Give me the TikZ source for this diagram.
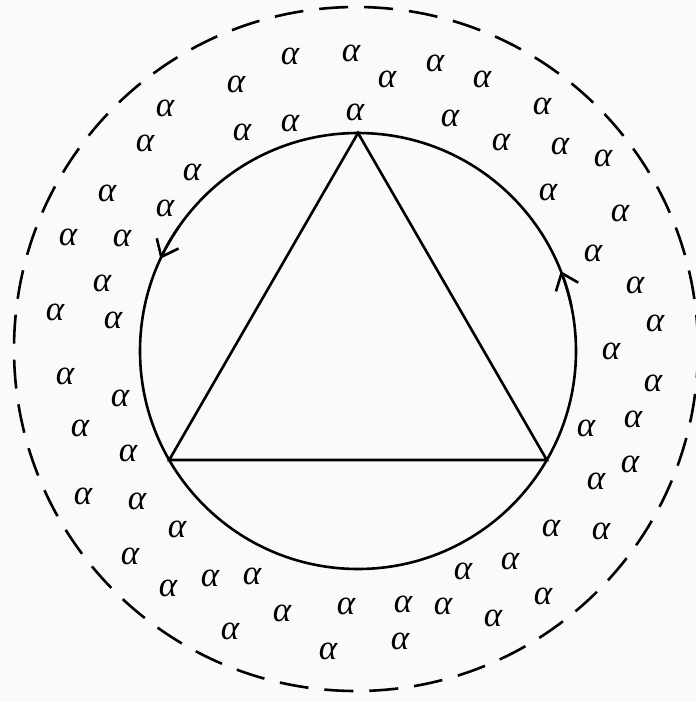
\documentclass[tikz,border=0pt]{standalone}
\usepackage{fontspec}
\newfontfamily\grk{Liberation Serif}
\usetikzlibrary{arrows.meta,calc}
\definecolor{bg}{RGB}{250,250,250}
\begin{document}
\begin{tikzpicture}[x=1pt,y=-1pt,line width=2.6pt,
  alpha/.style={font=\grk\itshape\fontsize{35}{37}\selectfont, inner sep=0pt},
  flowtip/.style={-{Straight Barb[length=15pt,width=24pt,line width=2.6pt]}},
]
\useasboundingbox[fill=bg] (0,0) rectangle (696,702);
% outer dashed circle
\coordinate (Oo) at (356,349);
\draw[dash pattern=on 29pt off 16pt] (Oo) circle[radius=342];
% inner circle
\coordinate (O) at (358,351);
\draw (O) circle[radius=218];
% direction marks on inner circle
\draw[flowtip] ($(O)+(215:218)$) arc[start angle=215,end angle=205,radius=218];
\draw[flowtip] ($(O)+(348:218)$) arc[start angle=348,end angle=338.5,radius=218];
% inscribed triangle
\coordinate (A) at ($(O)+(270:218)$);
\coordinate (B) at ($(O)+(150:218)$);
\coordinate (C) at ($(O)+(30:218)$);
\draw[line join=miter] (A) -- (B) -- (C) -- cycle;
% alpha particles
\foreach \p [count=\i] in {(290,56),(351,53),(435,63),(236,84),(387,79),(482,79),(165,108),(290,123),(355,112),(242,132),(450,118),(542,106),(145,143),(501,142),(560,146),(603,158),(192,172),(548,192),(107,193),(165,208),(620,213),(68,237),(122,238),(593,253),(102,283),(635,285),(55,312),(113,320),(655,323),(611,351),(65,376),(120,398),(80,428),(128,453),(83,496),(137,501),(177,529),(130,556),(210,578),(252,576),(168,588),(282,613),(230,631),(328,651),(346,606),(403,604),(443,606),(400,641),(463,571),(510,561),(493,618),(543,596),(551,528),(601,531),(596,481),(630,464),(586,428),(633,419),(653,383)}
  \node[alpha] (a\i) at \p {α};
\end{tikzpicture}
\end{document}
